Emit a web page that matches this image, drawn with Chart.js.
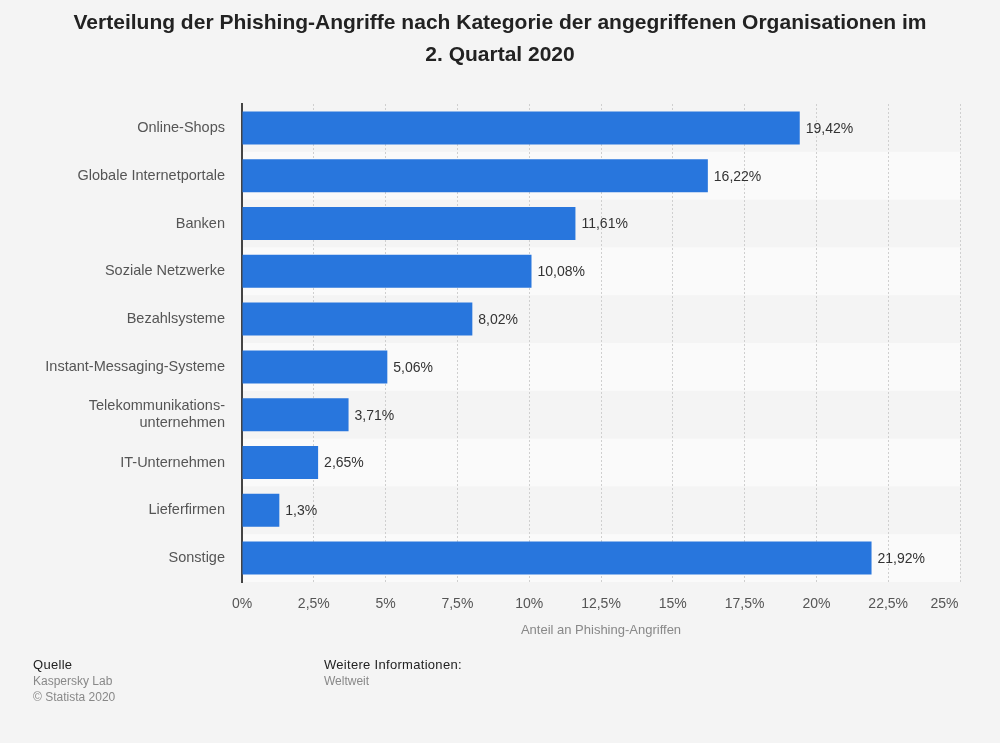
<!DOCTYPE html>
<html>
<head>
<meta charset="utf-8">
<script src="https://cdn.jsdelivr.net/npm/chart.js@4"></script>
<style>
  body { margin: 0; background: #f4f4f4; font-family: "Liberation Sans", Arial, sans-serif; }
  #wrap { position: relative; width: 1000px; height: 743px; }
  #title { position: absolute; left: 0; top: 6px; width: 1000px; text-align: center;
    font-weight: bold; font-size: 21px; line-height: 32px; color: #222; }
  .foot { position: absolute; font-size: 12px; line-height: 16px; color: #888; }
  .foot b { font-weight: normal; color: #222; font-size: 13px; letter-spacing: 0.3px; }
</style>
</head>
<body>
<div id="wrap">
  <canvas id="chart" width="1000" height="743"></canvas>
  <div id="title">Verteilung der Phishing-Angriffe nach Kategorie der angegriffenen Organisationen im<br>2. Quartal 2020</div>
  <div class="foot" style="left:33px; top:657px;"><b>Quelle</b><br>Kaspersky Lab<br>© Statista 2020</div>
  <div class="foot" style="left:324px; top:657px;"><b>Weitere Informationen:</b><br>Weltweit</div>
</div>
<script>
const categories = ['Online-Shops', 'Globale Internetportale', 'Banken', 'Soziale Netzwerke', 'Bezahlsysteme',
  'Instant-Messaging-Systeme', ['Telekommunikations-', 'unternehmen'], 'IT-Unternehmen', 'Lieferfirmen', 'Sonstige'];
const values = [19.42, 16.22, 11.61, 10.08, 8.02, 5.06, 3.71, 2.65, 1.3, 21.92];
const xTicks = [0, 2.5, 5, 7.5, 10, 12.5, 15, 17.5, 20, 22.5, 25];

const fmt = v => v.toLocaleString('de-DE') + '%';

// alternating row bands, painted before the grid
const bands = {
  id: 'bands',
  beforeDraw(chart) {
    const { ctx, chartArea, scales: { y } } = chart;
    const step = (chartArea.bottom - chartArea.top) / categories.length;
    ctx.save();
    ctx.fillStyle = '#fafafa';
    categories.forEach((c, i) => {
      if (i % 2 === 1) {
        const cy = y.getPixelForValue(i);
        ctx.fillRect(chartArea.left, cy - step / 2, chartArea.right - chartArea.left, step);
      }
    });
    ctx.restore();
  }
};

const valueLabels = {
  id: 'valueLabels',
  afterDatasetsDraw(chart) {
    const { ctx } = chart;
    const meta = chart.getDatasetMeta(0);
    ctx.save();
    ctx.font = '14px "Liberation Sans", Arial, sans-serif';
    ctx.fillStyle = '#333';
    ctx.textBaseline = 'middle';
    meta.data.forEach((bar, i) => {
      ctx.fillText(fmt(values[i]), bar.x + 6, bar.y + 1);
    });
    ctx.restore();
  }
};

new Chart(document.getElementById('chart'), {
  type: 'bar',
  data: {
    labels: categories,
    datasets: [{
      data: values,
      backgroundColor: '#2876dd',
      barPercentage: 0.69,
      categoryPercentage: 1
    }]
  },
  options: {
    indexAxis: 'y',
    responsive: false,
    animation: false,
    layout: { padding: { left: 0, right: 40, top: 104, bottom: 101 } },
    plugins: { legend: { display: false }, tooltip: { enabled: false } },
    scales: {
      x: {
        min: 0, max: 25,
        afterBuildTicks: s => { s.ticks = xTicks.map(v => ({ value: v })); },
        afterFit: s => { s.height = 60; s.paddingLeft = 0; s.paddingRight = 0; },
        grid: { color: '#cfcfcf', drawTicks: false },
        border: { display: false, dash: [2, 2] },
        ticks: {
          padding: 14, color: '#555', font: { size: 14, family: '"Liberation Sans", Arial' },
          // last label sits flush with the right edge, as in the original
          callback: v => v === 25 ? fmt(v) + '        ' : fmt(v)
        },
        title: { display: true, text: 'Anteil an Phishing-Angriffen', color: '#888',
          font: { size: 13, family: '"Liberation Sans", Arial' }, padding: { top: 4 } }
      },
      y: {
        afterFit: s => { s.width = 242; },
        grid: { display: false, drawTicks: false },
        border: { display: true, color: '#444', width: 2 },
        ticks: { padding: 17, color: '#555', font: { size: 14.5, family: '"Liberation Sans", Arial', lineHeight: 1.2 } }
      }
    }
  },
  plugins: [bands, valueLabels]
});
</script>
</body>
</html>
